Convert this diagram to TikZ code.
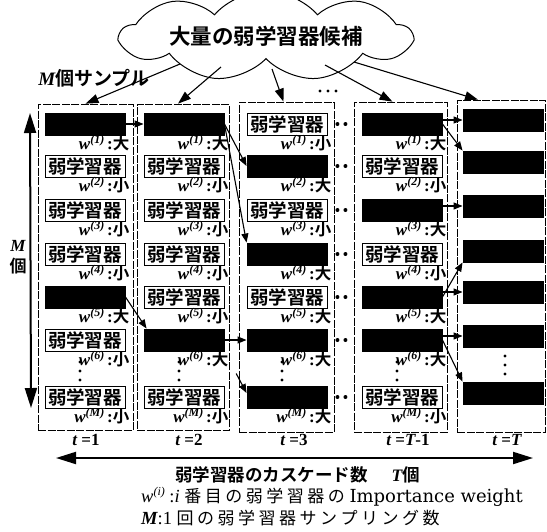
\documentclass[tikz,border=0pt]{standalone}
\usepackage{fontspec}
\setmainfont{Liberation Serif}
\newfontfamily\jp{Noto Sans CJK JP}[BoldFont={Noto Sans CJK JP Bold}]
\newfontfamily\cent{DejaVu Serif}
\usetikzlibrary{arrows.meta,shapes.symbols}
\newcommand{\wlab}[2]{{\bfseries\itshape w\raisebox{6pt}{\fontsize{12}{12}\selectfont(#1)}}{\bfseries\,:}{\jp\bfseries\fontsize{16.5}{16.5}\selectfont #2}}
\newcommand{\ks}{\kern3.5pt}
\newcommand{\cellW}[4]{\node[wbox] (b#1) at (#2) {弱学習器};
  \node[wlabel] (l#1) at ([xshift=4pt,yshift=-19pt]b#1.east) {\wlab{#3}{#4}};}
\newcommand{\cellB}[4]{\node[bbox] (b#1) at (#2) {};
  \node[wlabel] (l#1) at ([xshift=4pt,yshift=-19pt]b#1.east) {\wlab{#3}{#4}};}
\tikzset{
  wbox/.style={draw, line width=0.9pt, fill=white, minimum width=80pt, minimum height=22pt, inner sep=0pt, font=\jp\bfseries\fontsize{18.5}{18.5}\selectfont},
  bbox/.style={draw, fill=black, line width=0.9pt, minimum width=80pt, minimum height=22pt, inner sep=0pt},
  wlabel/.style={anchor=east, inner sep=0pt, font=\fontsize{17}{17}\selectfont},
  colframe/.style={draw, line width=0.7pt, dash pattern=on 8pt off 1.5pt, inner sep=0pt},
  link/.style={arrows={-Triangle[length=9pt,width=7pt]}, line width=1.1pt},
  samp/.style={arrows={-Triangle[length=13pt,width=9pt]}, line width=1.1pt},
  dbl/.style={arrows={Triangle[length=20pt,width=12pt]-Triangle[length=20pt,width=12pt]}, line width=2pt},
  dotlink/.style={line width=4pt, line cap=round, dash pattern=on 0pt off 8pt, shorten <=10pt, shorten >=8.5pt},
  tlab/.style={inner sep=0pt, font=\bfseries\fontsize{17}{17}\selectfont},
}
\begin{document}
\begin{tikzpicture}[x=1pt,y=-1pt]
\path[use as bounding box] (0,0) rectangle (547,531);

% cloud
\node[cloud, draw, line width=1pt, cloud puffs=9, cloud puff arc=100, aspect=5.5,
      minimum width=290pt, minimum height=46pt, inner sep=0pt,
      font=\jp\bfseries\fontsize{21.5}{21.5}\selectfont] (cloud) at (266,36) {大量の弱学習器候補};

\node[inner sep=0pt, font=\fontsize{19}{19}\selectfont] (msamp) at (94,78) {{\bfseries\itshape M}{\jp\bfseries 個サンプル}};

% column frames
\node[colframe, minimum width=95pt, minimum height=326pt] (c1) at (85.5,267) {};
\node[colframe, minimum width=92pt, minimum height=326pt] (c2) at (183,267) {};
\node[colframe, minimum width=95pt, minimum height=330pt] (c3) at (286.5,267) {};
\node[colframe, minimum width=93pt, minimum height=330pt] (c4) at (400.5,267) {};
\node[colframe, minimum width=88pt, minimum height=332pt] (c5) at (501,266) {};

% column 1
\cellB{11}{85,124}{1}{大}
\cellW{12}{85,166}{2}{小}
\cellW{13}{85,210}{3}{小}
\cellW{14}{85,254}{4}{小}
\cellB{15}{85,297}{5}{大}
\cellW{16}{85,340}{6}{小}
\cellW{17}{85,397}{\itshape M}{小}
% column 2
\cellB{21}{184,124}{1}{大}
\cellW{22}{184,166}{2}{小}
\cellW{23}{184,210}{3}{小}
\cellW{24}{184,254}{4}{小}
\cellW{25}{184,297}{5}{小}
\cellB{26}{184,340}{6}{大}
\cellW{27}{184,397}{\itshape M}{小}
% column 3
\cellW{31}{287,124}{1}{小}
\cellB{32}{287,166}{2}{大}
\cellW{33}{287,210}{3}{小}
\cellB{34}{287,254}{4}{大}
\cellW{35}{287,297}{5}{大}
\cellB{36}{287,340}{6}{大}
\cellB{37}{287,397}{\itshape M}{大}
% column 4
\cellB{41}{402,124}{1}{大}
\cellW{42}{402,166}{2}{小}
\cellB{43}{402,210}{3}{大}
\cellW{44}{402,254}{4}{小}
\cellB{45}{402,297}{5}{大}
\cellB{46}{402,340}{6}{大}
\cellW{47}{402,397}{\itshape M}{小}
% column 5
\node[bbox] (b51) at (503,120) {};
\node[bbox] (b52) at (503,162) {};
\node[bbox] (b53) at (503,206) {};
\node[bbox] (b54) at (503,251) {};
\node[bbox] (b55) at (503,292) {};
\node[bbox] (b56) at (503,336) {};
\node[bbox] (b57) at (503,393) {};

% vertical ellipses
\foreach \x in {80,179,282,397} \foreach \y in {362,371,380} \fill (\x,\y) circle (1.7pt);
\foreach \y in {356,365,374} \fill (505,\y) circle (1.7pt);
% top ellipsis
\foreach \x in {320,328,336} \fill (\x,91) circle (1.7pt);

% cloud arrows
\coordinate (s1) at (180,64);
\coordinate (s2) at (221,67);
\coordinate (s3) at (272,69);
\coordinate (s4) at (325,65);
\coordinate (s5) at (354,62);
\draw[samp] (s1) -- (c1.north);
\draw[samp] (s2) -- ([xshift=-5pt]c2.north);
\draw[samp] (s3) -- ([xshift=-3pt]c3.north);
\draw[samp] (s4) -- ([xshift=-8pt]c4.north);
\draw[samp] (s5) -- ([xshift=-23pt]c5.north);

% links col1 -> col2
\draw[link] (b11.east) -- (b21.west);
\draw[link] (b15.east) -- ([xshift=3pt]b26.north west);
% col2 -> col3
\draw[link] (b21.east) -- (b32.west);
\draw[link] (b21.east) -- (b34.north west);
\draw[link] (b26.east) -- (b36.west);
\draw[link, shorten <=25pt] (b26.south east) -- ([yshift=4pt]b37.west);
% col3 ... col4
\foreach \r in {1,...,7} \draw[dotlink] (b3\r.east) -- (b4\r.west);
% col4 -> col5
\draw[link] (b41.east |- b51.west) -- (b51.west);
\draw[link] (b41.east) -- (b52.north west);
\draw[link] (b43.east |- b53.west) -- (b53.west);
\draw[link] (b45.east) -- (b54.south west);
\draw[link] (b45.east |- b55.west) -- (b55.west);
\draw[link] (b46.east |- b56.west) -- (b56.west);
\draw[link] (b46.east) -- (b57.north west);

% t labels
\node[tlab] (t1) at (86,440) {{\itshape t} =1};
\node[tlab] (t2) at (189,440) {{\itshape t} =2};
\node[tlab] (t3) at (294,440) {{\itshape t} =3};
\node[tlab] (t4) at (408,440) {{\itshape t} ={\itshape T}-1};
\node[tlab] (t5) at (507,440) {{\itshape t} ={\itshape T}};

% M axis
\coordinate (vt) at (30,113);
\coordinate (vb) at (31,408);
\draw[dbl] (vt) -- (vb);
\node[inner sep=0pt, font=\bfseries\itshape\fontsize{17}{17}\selectfont] (mm) at (18,246) {M};
\node[inner sep=0pt, font=\jp\bfseries\fontsize{17}{17}\selectfont] (mko) at (18,266) {個};

% T axis
\coordinate (hl) at (56,458);
\coordinate (hr) at (533,458);
\draw[dbl] (hl) -- (hr);

% captions
\node[anchor=west, inner sep=0pt, font=\jp\bfseries\fontsize{17.5}{17.5}\selectfont] (cap1) at (175,475)
  {弱学習器のカスケード数\hspace{24pt}{\rmfamily\itshape T}個};
\node[anchor=west, inner sep=0pt, font=\fontsize{18.5}{18.5}\selectfont] (cap2) at (141,497)
  {{\itshape w}\raisebox{6.5pt}{\fontsize{12}{12}\selectfont\itshape (i)}\ :{\itshape i}\ {\jp\fontsize{17}{17}\selectfont 番\ks 目\ks の\ks 弱\ks 学\ks 習\ks 器\ks の}\ {\cent\fontsize{18}{18}\selectfont Importance weight}};
\node[anchor=west, inner sep=0pt, font=\fontsize{18.5}{18.5}\selectfont] (cap3) at (141,518)
  {{\bfseries\itshape M}:1 {\jp\fontsize{17}{17}\selectfont 回\ks の\ks 弱\ks 学\ks 習\ks 器\ks サ\ks ン\ks プ\ks リ\ks ン\ks グ\ks 数}};
\end{tikzpicture}
\end{document}
